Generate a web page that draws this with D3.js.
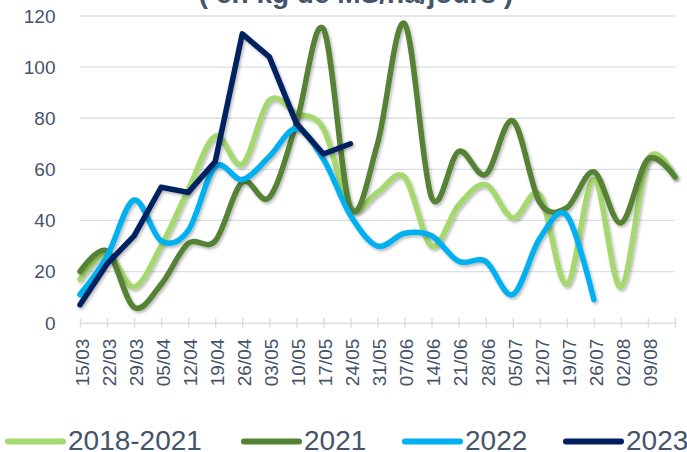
<!DOCTYPE html>
<html>
<head>
<meta charset="utf-8">
<script src="https://cdn.jsdelivr.net/npm/d3@7"></script>
<style>
  body { margin: 0; background: #fff; }
  svg { display: block; font-family: "Liberation Sans", Arial, sans-serif; }
</style>
</head>
<body>
<svg id="graph" width="687" height="452"></svg>
<script>
// semaines (le dernier point n'a pas d'étiquette visible)
const weeks = ["15/03", "22/03", "29/03", "05/04", "12/04", "19/04", "26/04", "03/05",
  "10/05", "17/05", "24/05", "31/05", "07/06", "14/06", "21/06", "28/06",
  "05/07", "12/07", "19/07", "26/07", "02/08", "09/08"];

const moy1821 = [17, 27, 14, 30, 52, 73, 62, 87, 82, 76, 45, 51, 57, 30, 46, 54, 41, 50, 15, 56, 14, 64, 57];
const y2021 = [20, 28, 6, 15, 31, 32, 55, 49, 78, 115, 45, 70, 117, 49, 67, 58, 79, 47, 45, 59, 39, 64, 57];
const y2022 = [11, 26, 48, 32, 36, 61, 56, 65, 76, 64, 42, 30, 35, 34, 24, 24, 11, 33, 42, 9, null, null, null];
const y2023 = [7, 23, 34, 53, 51, 63, 113, 104, 78, 66, 70, null, null, null, null, null, null, null, null, null, null, null, null];

const yTicks = [0, 20, 40, 60, 80, 100, 120];

const series = [
  { name: "2018-2021", values: moy1821, color: "#a5d86e", smooth: true },
  { name: "2021", values: y2021, color: "#548235", smooth: true },
  { name: "2022", values: y2022, color: "#00b0f0", smooth: true },
  { name: "2023", values: y2023, color: "#002060", smooth: false }
];

const svg = d3.select("#graph");
const textColor = "#44546a";
const gridColor = "#dadee5";

// shadow like excel
const defs = svg.append("defs");
defs.append("filter")
    .attr("id", "shadow")
    .attr("x", "-10%").attr("y", "-10%")
    .attr("width", "120%").attr("height", "130%")
  .append("feDropShadow")
    .attr("dx", 1.5)
    .attr("dy", 2)
    .attr("stdDeviation", 1.5)
    .attr("flood-color", "#000")
    .attr("flood-opacity", 0.28);

const x = d3.scalePoint()
    .domain(d3.range(moy1821.length))
    .range([80, 675]);

const y = d3.scaleLinear()
    .domain([0, 120])
    .range([322.7, 16]);

// title (cut at top)
svg.append("text")
    .attr("x", 356)
    .attr("y", 3)
    .attr("text-anchor", "middle")
    .attr("font-weight", "bold")
    .attr("font-size", 28)
    .attr("fill", textColor)
    .text("( en kg de MS/ha/jours )");

// gridlines
svg.append("g")
  .selectAll("line")
  .data(yTicks.filter(d => d > 0))
  .join("line")
    .attr("x1", 80)
    .attr("x2", 675)
    .attr("y1", d => y(d))
    .attr("y2", d => y(d))
    .attr("stroke", gridColor)
    .attr("stroke-width", 1.3);

// y axis labels
svg.append("g")
  .selectAll("text")
  .data(yTicks)
  .join("text")
    .attr("x", 55.5)
    .attr("y", d => y(d))
    .attr("dy", "0.36em")
    .attr("text-anchor", "end")
    .attr("font-size", 19)
    .attr("fill", textColor)
    .text(d => d);

// x axis
const xAxis = svg.append("g")
    .attr("transform", `translate(0,${y(0)})`)
    .call(d3.axisBottom(x).tickSize(5).tickSizeOuter(0).tickFormat(i => weeks[i] || ""));

xAxis.select(".domain").attr("stroke", gridColor).attr("stroke-width", 1.5);
xAxis.selectAll(".tick line")
    .attr("y1", -5)
    .attr("stroke", gridColor)
    .attr("stroke-width", 1.5);
xAxis.selectAll(".tick text")
    .attr("transform", "rotate(-90)")
    .attr("x", -16)
    .attr("y", 1.5)
    .attr("dy", "0.36em")
    .attr("dx", 0)
    .style("text-anchor", "end")
    .attr("font-size", 19)
    .attr("font-family", "Liberation Sans, Arial, sans-serif")
    .attr("fill", textColor);

// lines
series.forEach(s => {
  const line = d3.line()
      .defined(d => d != null)
      .x((d, i) => x(i))
      .y(d => y(d))
      .curve(s.smooth ? d3.curveCardinal.tension(0) : d3.curveLinear);

  svg.append("path")
      .datum(s.values)
      .attr("d", line)
      .attr("fill", "none")
      .attr("stroke", s.color)
      .attr("stroke-width", 5.5)
      .attr("stroke-linejoin", "round")
      .attr("stroke-linecap", "round")
      .attr("filter", "url(#shadow)");
});

// legend
const legendX = [8, 244, 405, 566];
const legend = svg.append("g")
  .selectAll("g")
  .data(series)
  .join("g")
    .attr("transform", (d, i) => `translate(${legendX[i]},441.5)`);

legend.append("line")
    .attr("x1", 0)
    .attr("x2", 55)
    .attr("stroke", d => d.color)
    .attr("stroke-width", 6)
    .attr("stroke-linecap", "round");

legend.append("text")
    .attr("x", 60)
    .attr("y", 8.5)
    .attr("font-size", 28)
    .attr("fill", textColor)
    .text(d => d.name);
</script>
</body>
</html>
